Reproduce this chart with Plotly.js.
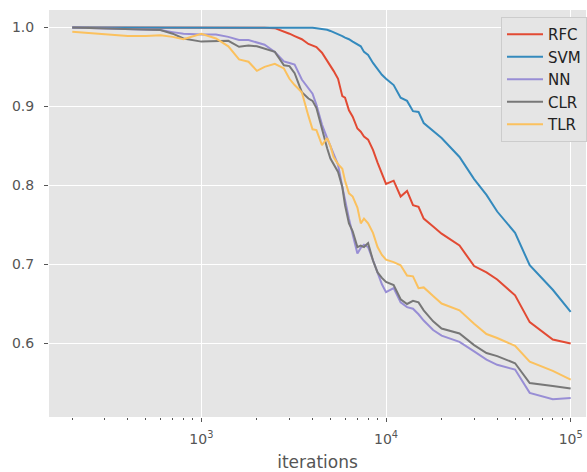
<!DOCTYPE html>
<html>
<head>
<meta charset="utf-8">
<script src="https://cdn.plot.ly/plotly-3.0.1.min.js"></script>
<style>html,body{margin:0;padding:0;background:#fff;}#chart{width:587px;height:472px;}</style>
</head>
<body>
<div id="chart"></div>
<script>
const iterations = [200, 300, 400, 500, 600, 700, 800, 1000, 1200, 1400, 1600, 1800, 2000, 2200, 2500, 2800, 3000, 3200, 3500, 3800, 4000, 4200, 4500, 4800, 5000, 5200, 5500, 5800, 6000, 6300, 6600, 7000, 7300, 7600, 8000, 8500, 9000, 9500, 10000, 11000, 12000, 13000, 14000, 15000, 16000, 18000, 20000, 25000, 30000, 35000, 40000, 50000, 60000, 80000, 100000];

const rfc = [1.0, 1.0, 1.0, 1.0, 1.0, 1.0, 1.0, 1.0, 1.0, 1.0, 1.0, 1.0, 1.0, 0.9995, 0.999, 0.995, 0.992, 0.989, 0.985, 0.979, 0.977, 0.975, 0.968, 0.958, 0.952, 0.945, 0.935, 0.913, 0.911, 0.895, 0.887, 0.872, 0.868, 0.862, 0.858, 0.845, 0.829, 0.815, 0.802, 0.806, 0.786, 0.793, 0.775, 0.773, 0.758, 0.748, 0.739, 0.724, 0.698, 0.690, 0.681, 0.661, 0.627, 0.605, 0.600];

const svm = [1.0, 1.0, 1.0, 1.0, 1.0, 1.0, 1.0, 1.0, 1.0, 1.0, 1.0, 1.0, 1.0, 1.0, 1.0, 1.0, 1.0, 1.0, 1.0, 0.9995, 0.9995, 0.999, 0.998, 0.997, 0.9955, 0.994, 0.992, 0.989, 0.987, 0.985, 0.982, 0.979, 0.976, 0.969, 0.965, 0.955, 0.947, 0.940, 0.935, 0.927, 0.911, 0.907, 0.894, 0.893, 0.879, 0.869, 0.860, 0.836, 0.808, 0.788, 0.767, 0.740, 0.699, 0.668, 0.640];

const nn = [1.0, 0.999, 0.998, 0.997, 0.9966, 0.994, 0.992, 0.991, 0.991, 0.988, 0.984, 0.984, 0.981, 0.978, 0.969, 0.957, 0.955, 0.953, 0.934, 0.922, 0.916, 0.902, 0.877, 0.860, 0.850, 0.840, 0.826, 0.798, 0.781, 0.758, 0.738, 0.714, 0.721, 0.725, 0.722, 0.705, 0.688, 0.675, 0.665, 0.670, 0.652, 0.646, 0.644, 0.637, 0.629, 0.617, 0.610, 0.602, 0.590, 0.5795, 0.573, 0.567, 0.5375, 0.5295, 0.531];

const clr = [1.0, 0.999, 0.998, 0.997, 0.9966, 0.992, 0.986, 0.982, 0.983, 0.983, 0.9755, 0.977, 0.976, 0.973, 0.969, 0.952, 0.951, 0.942, 0.918, 0.910, 0.907, 0.898, 0.870, 0.847, 0.834, 0.827, 0.817, 0.798, 0.775, 0.752, 0.742, 0.722, 0.724, 0.722, 0.727, 0.705, 0.690, 0.683, 0.678, 0.674, 0.656, 0.650, 0.654, 0.652, 0.642, 0.628, 0.619, 0.6127, 0.598, 0.588, 0.584, 0.575, 0.550, 0.5463, 0.543];

const tlr = [0.9945, 0.991, 0.989, 0.989, 0.990, 0.988, 0.985, 0.992, 0.986, 0.976, 0.9595, 0.9565, 0.945, 0.950, 0.954, 0.948, 0.935, 0.927, 0.918, 0.888, 0.871, 0.870, 0.851, 0.860, 0.850, 0.836, 0.827, 0.821, 0.806, 0.790, 0.786, 0.772, 0.752, 0.758, 0.752, 0.740, 0.722, 0.712, 0.706, 0.703, 0.699, 0.686, 0.685, 0.670, 0.671, 0.660, 0.6506, 0.642, 0.625, 0.612, 0.607, 0.597, 0.577, 0.5653, 0.5544];

const seriesNames = ['RFC', 'SVM', 'NN', 'CLR', 'TLR'];
const seriesValues = [rfc, svm, nn, clr, tlr];
const seriesColors = ['#E24A33', '#348ABD', '#988ED5', '#777777', '#FBC15E'];

const majorTicks = [1000, 10000, 100000];
const majorTickText = ['10<sup>3</sup>', '10<sup>4</sup>', '10<sup>5</sup>'];

const minorTicks = [];
for (let e = 2; e <= 5; e++) {
  for (let d = 2; d <= 9; d++) minorTicks.push(d * Math.pow(10, e));
}

const traces = seriesNames.map((name, i) => ({
  type: 'scatter',
  mode: 'lines',
  name: name,
  x: iterations,
  y: seriesValues[i],
  line: {color: seriesColors[i], width: 2}
}));

const layout = {
  width: 587,
  height: 472,
  margin: {l: 49, r: 0, t: 10, b: 55, pad: 0},
  paper_bgcolor: '#ffffff',
  plot_bgcolor: '#E5E5E5',
  font: {family: 'DejaVu Sans, sans-serif', color: '#555555', size: 14},
  showlegend: true,
  legend: {
    x: 0.842, y: 0.983, xanchor: 'left', yanchor: 'top',
    bgcolor: '#E5E5E5', bordercolor: '#CCCCCC', borderwidth: 1,
    itemwidth: 36,
    font: {size: 15, color: '#222222', family: 'DejaVu Sans, sans-serif'}
  },
  xaxis: {
    type: 'log',
    range: [2.175, 5.083],
    tickmode: 'array',
    tickvals: majorTicks,
    ticktext: majorTickText,
    ticks: 'outside', ticklen: 4, tickwidth: 1, tickcolor: '#555555',
    ticklabelstandoff: 5,
    showgrid: true, gridcolor: '#ffffff', gridwidth: 1,
    zeroline: false, showline: false,
    tickfont: {size: 14, color: '#555555'},
    minor: {tickmode: 'array', tickvals: minorTicks, ticks: 'outside', ticklen: 2, tickwidth: 1, tickcolor: '#555555', showgrid: false},
    title: {text: 'iterations', font: {size: 17, color: '#555555'}, standoff: 12}
  },
  yaxis: {
    range: [0.507, 1.022],
    tickmode: 'array',
    tickvals: [0.6, 0.7, 0.8, 0.9, 1.0],
    ticktext: ['0.6', '0.7', '0.8', '0.9', '1.0'],
    ticks: 'outside', ticklen: 4, tickwidth: 1, tickcolor: '#555555',
    ticklabelstandoff: 7,
    showgrid: true, gridcolor: '#ffffff', gridwidth: 1,
    zeroline: false, showline: false,
    tickfont: {size: 14, color: '#555555'}
  }
};

Plotly.newPlot('chart', traces, layout, {displayModeBar: false, staticPlot: true});
</script>
</body>
</html>
